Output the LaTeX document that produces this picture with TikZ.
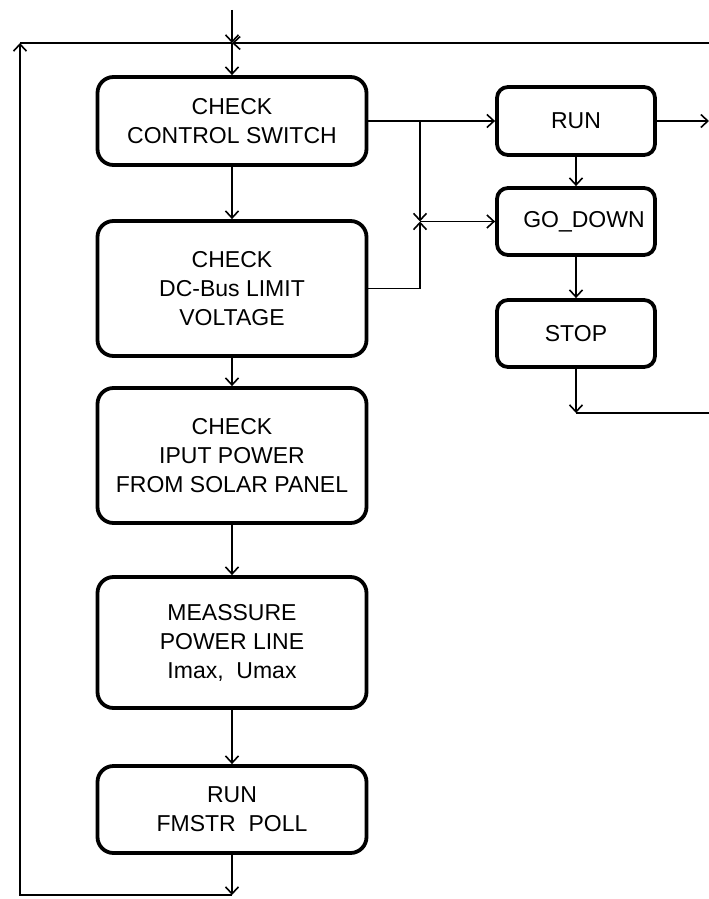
\documentclass[tikz,border=0pt]{standalone}
\usepackage{fontspec}
\setmainfont{Liberation Sans}
\usetikzlibrary{arrows.meta}
\begin{document}
\begin{tikzpicture}[x=1pt,y=-1pt,
  box/.style={draw, line width=3.8pt, rounded corners=16pt, align=center,
    font=\fontsize{23}{29}\selectfont, inner sep=0pt, minimum width=269pt},
  sbox/.style={box, rounded corners=11pt, minimum width=158pt, minimum height=67pt},
  conn/.style={line width=1.8pt},
  arr/.style={conn, -{Straight Barb[length=7pt,width=13pt,line width=1.6pt]}},
]
\useasboundingbox (0,0) rectangle (709,899);

% main column
\node[box, minimum height=88pt]  (b1) at (232,121)   {CHECK\\CONTROL SWITCH};
\node[box, minimum height=135pt] (b2) at (232,288.5) {CHECK\\DC-Bus LIMIT\\VOLTAGE};
\node[box, minimum height=135pt] (b3) at (232,455.5) {CHECK\\IPUT POWER\\FROM SOLAR PANEL};
\node[box, minimum height=131pt] (b4) at (232,642.5) {MEASSURE\\POWER LINE\\Imax,\ \ Umax};
\node[box, minimum height=87pt]  (b5) at (232,809.5) {RUN\\FMSTR\ \ POLL};

% right column
\node[sbox, minimum height=68pt] (run)  at (576,121)   {RUN};
\node[sbox] (gd)   at (576,221.5) {\hspace*{16pt}GO\_DOWN};
\node[sbox] (stop) at (576,333.5) {STOP};

% coordinates
\coordinate (top) at (232,10);
\coordinate (j0)  at (232,43);
\coordinate (rt)  at (709,43);
\coordinate (lt)  at (20,43);
\coordinate (lb)  at (20,895);
\coordinate (bb)  at (232,895);
\coordinate (jx)  at (420,121);
\coordinate (jg)  at (420,221.5);
\coordinate (sb)  at (576,413);
\coordinate (sr)  at (709,413);
\coordinate (rr)  at (709,121);

% entry and loop
\draw[arr] (top) -- (j0);
\draw[arr] (j0) -- (b1.north);
\draw[arr] (rt) -- (j0);
\draw[conn] (lt) -- (j0);
\draw[arr] (b5.south) -- (bb);
\draw[arr] (bb) -- (lb) -- (lt);

% main column arrows
\draw[arr] (b1.south) -- (b2.north);
\draw[arr] (b2.south) -- (b3.north);
\draw[arr] (b3.south) -- (b4.north);
\draw[arr] (b4.south) -- (b5.north);

% branches
\draw[arr] (b1.east) -- (run.west);
\draw[arr] (jx) -- (jg);
\draw[arr] (b2.east) -| (jg);
\draw[arr] (jg) -- (gd.west);
\draw[arr] (run.east) -- (rr);
\draw[arr] (run.south) -- (gd.north);
\draw[arr] (gd.south) -- (stop.north);
\draw[arr] (stop.south) -- (sb);
\draw[conn] (sb) -- (sr);
\end{tikzpicture}
\end{document}
